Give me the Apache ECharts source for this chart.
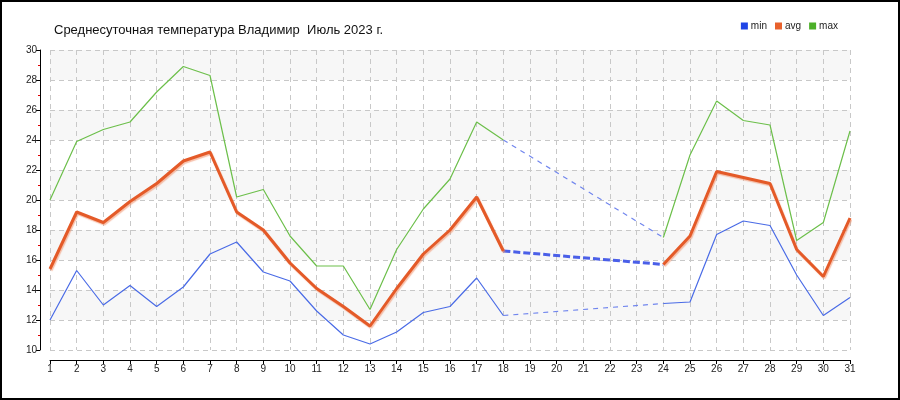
<!DOCTYPE html>
<html>
<head>
<meta charset="utf-8">
<script src="https://cdn.jsdelivr.net/npm/echarts@6/dist/echarts.min.js"></script>
<style>
  html, body { margin: 0; padding: 0; background: #fff; }
  #chart { width: 900px; height: 400px; }
</style>
</head>
<body>
<div id="chart"></div>
<script>
const titleText = 'Среднесуточная температура Владимир  Июль 2023 г.';
const days = ['1','2','3','4','5','6','7','8','9','10','11','12','13','14','15','16','17','18','19','20','21','22','23','24','25','26','27','28','29','30','31'];
const minTemp = [12.0, 15.3, 13.0, 14.3, 12.9, 14.2, 16.4, 17.2, 15.2, 14.6, 12.6, 11.0, 10.4, 11.2, 12.5, 12.9, 14.8, 12.3, null, null, null, null, null, 13.1, 13.2, 17.7, 18.6, 18.3, 15.0, 12.3, 13.5];
const avgTemp = [15.4, 19.2, 18.5, 19.9, 21.1, 22.6, 23.2, 19.2, 18.0, 15.8, 14.1, 12.9, 11.6, 14.1, 16.4, 18.0, 20.2, 16.6, null, null, null, null, null, 15.7, 17.6, 21.9, 21.5, 21.1, 16.7, 14.9, 18.8];
const maxTemp = [20.0, 23.9, 24.7, 25.2, 27.2, 28.9, 28.3, 20.2, 20.7, 17.6, 15.6, 15.6, 12.7, 16.7, 19.4, 21.4, 25.2, 24.0, null, null, null, null, null, 17.5, 23.0, 26.6, 25.3, 25.0, 17.3, 18.5, 24.6];
const seriesNames = ['min', 'avg', 'max'];

// Keep only the points that border a gap, to draw dashed connectors
function gapData(arr) {
  return arr.map(function (v, i) {
    if (v == null) return null;
    const prevNull = i > 0 && arr[i - 1] == null;
    const nextNull = i < arr.length - 1 && arr[i + 1] == null;
    return (prevNull || nextNull) ? v : null;
  });
}

const chart = echarts.init(document.getElementById('chart'));
const font = 'Liberation Sans, Arial, sans-serif';

chart.setOption({
  animation: false,
  backgroundColor: '#ffffff',
  textStyle: { fontFamily: font },
  title: {
    text: titleText,
    left: 49,
    top: 19,
    textStyle: { fontFamily: font, fontSize: 13, fontWeight: 'normal', color: '#111' }
  },
  legend: {
    data: seriesNames,
    right: 57,
    top: 16,
    icon: 'rect',
    itemWidth: 7,
    itemHeight: 7,
    itemGap: 8,
    textStyle: { fontFamily: font, fontSize: 10, color: '#222', padding: [0, 0, 0, -2] }
  },
  graphic: [{
    type: 'rect',
    shape: { x: 1, y: 1, width: 898, height: 398 },
    style: { fill: 'none', stroke: '#000', lineWidth: 2 },
    silent: true,
    z: 100
  }],
  grid: { left: 50, right: 50, top: 50, bottom: 50, containLabel: false },
  xAxis: {
    type: 'category',
    data: days,
    boundaryGap: false,
    offset: 10,
    axisLine: { lineStyle: { color: '#000', width: 1 } },
    axisTick: { show: true, length: 4, lineStyle: { color: '#000' } },
    axisLabel: { fontFamily: font, fontSize: 10, color: '#222', margin: 4, interval: 0 },
    splitLine: { show: true, lineStyle: { color: '#c8c8c8', type: [5, 4], width: 1 } }
  },
  yAxis: {
    type: 'value',
    min: 10,
    max: 30,
    interval: 2,
    offset: 10,
    axisLine: { show: true, lineStyle: { color: '#000', width: 1 } },
    axisTick: { show: true, length: 4, lineStyle: { color: '#000' } },
    minorTick: { show: true, splitNumber: 2, length: 2, lineStyle: { color: '#e00000' } },
    axisLabel: { fontFamily: font, fontSize: 10, color: '#222', margin: 3 },
    splitLine: { show: true, lineStyle: { color: '#c8c8c8', type: [5, 4], width: 1 } },
    splitArea: { show: true, areaStyle: { color: ['#ffffff', '#f7f7f7'] } }
  },
  series: [
    {
      name: 'min', type: 'line', data: minTemp, showSymbol: false, connectNulls: false,
      itemStyle: { color: '#1f44e6' },
      lineStyle: { color: '#4a6be6', width: 1.2 }, z: 3
    },
    {
      name: 'avg', type: 'line', data: avgTemp, showSymbol: false, connectNulls: false,
      itemStyle: { color: '#e8612c' },
      lineStyle: { color: '#e45a28', width: 3, shadowColor: 'rgba(240,140,100,0.55)', shadowOffsetX: 1, shadowOffsetY: 1.5, shadowBlur: 1 }, z: 4
    },
    {
      name: 'max', type: 'line', data: maxTemp, showSymbol: false, connectNulls: false,
      itemStyle: { color: '#4caf28' },
      lineStyle: { color: '#6cbf4a', width: 1.2 }, z: 3
    },
    {
      name: 'min-gap', type: 'line', data: gapData(minTemp), showSymbol: false, connectNulls: true,
      lineStyle: { color: '#7186ee', width: 1.2, type: [5, 5] }, z: 2, legendHoverLink: false
    },
    {
      name: 'avg-gap', type: 'line', data: gapData(avgTemp), showSymbol: false, connectNulls: true,
      lineStyle: { color: '#4a5fe8', width: 3, type: [7, 3] }, z: 2, legendHoverLink: false
    },
    {
      name: 'max-gap', type: 'line', data: gapData(maxTemp), showSymbol: false, connectNulls: true,
      lineStyle: { color: '#7186ee', width: 1.2, type: [5, 5] }, z: 2, legendHoverLink: false
    }
  ]
});
</script>
</body>
</html>
